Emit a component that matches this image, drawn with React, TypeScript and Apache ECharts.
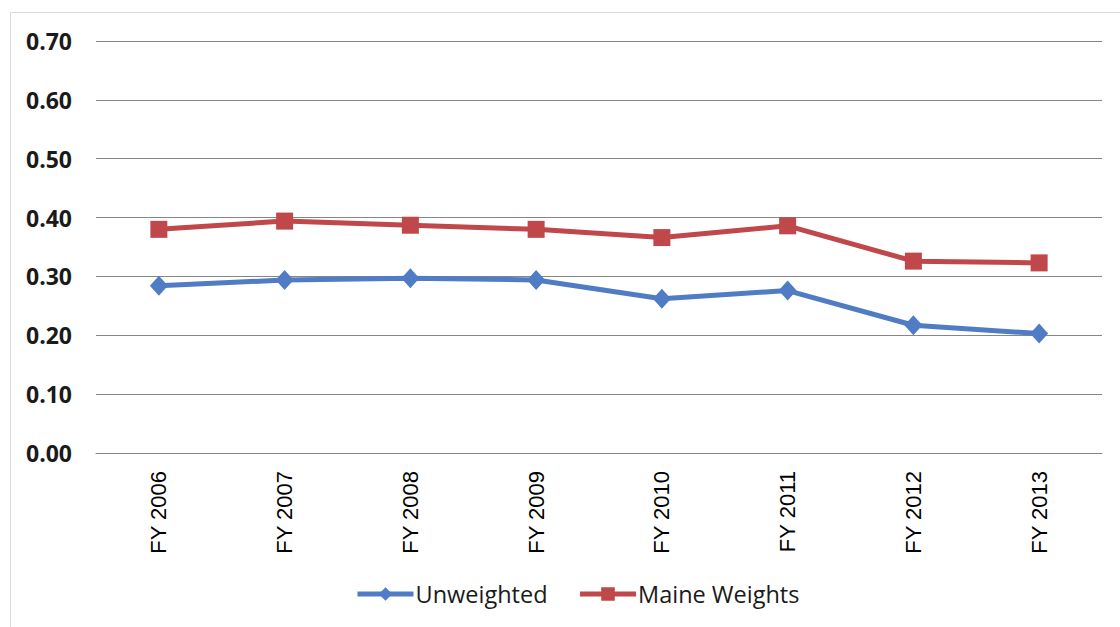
import React, { useEffect, useRef } from "react";
import * as echarts from "echarts";

const categories = ["FY 2006", "FY 2007", "FY 2008", "FY 2009", "FY 2010", "FY 2011", "FY 2012", "FY 2013"];
const unweighted = [0.284, 0.294, 0.297, 0.294, 0.262, 0.276, 0.217, 0.203];
const maineWeights = [0.38, 0.394, 0.387, 0.38, 0.366, 0.386, 0.326, 0.323];
const yTicks = { min: 0, max: 0.7, interval: 0.1 };

export default function App() {
  const ref = useRef<HTMLDivElement>(null);
  useEffect(() => {
    const chart = echarts.init(ref.current!, null, { renderer: "svg" });
    chart.setOption({
      animation: false,
      backgroundColor: "#ffffff",
      graphic: [
        {
          type: "rect",
          z: -1,
          shape: { x: 10.5, y: 12.5, width: 1120, height: 640 },
          style: { fill: "none", stroke: "#d9d9d9", lineWidth: 1 },
        },
      ],
      grid: { left: 96, right: 18, top: 41, bottom: 174, containLabel: false },
      legend: {
        bottom: 16,
        left: 350,
        itemWidth: 56,
        itemHeight: 17,
        itemGap: 30,
        lineStyle: { width: 5 },
        textStyle: { fontFamily: "Open Sans", fontSize: 23.5, color: "#1a1a1a", padding: [0, 0, 0, -3] },
        data: ["Unweighted", "Maine Weights"],
      },
      xAxis: {
        type: "category",
        data: categories,
        boundaryGap: true,
        axisLine: { show: true, lineStyle: { color: "#868686", width: 1 } },
        axisTick: { show: false },
        axisLabel: {
          rotate: 90,
          margin: 18,
          fontFamily: "Liberation Sans",
          fontSize: 22,
          color: "#000000",
        },
      },
      yAxis: {
        type: "value",
        min: yTicks.min,
        max: yTicks.max,
        interval: yTicks.interval,
        axisLine: { show: false },
        axisTick: { show: false },
        splitLine: { lineStyle: { color: "#868686", width: 1 } },
        axisLabel: {
          margin: 24,
          fontFamily: "Open Sans",
          fontWeight: "bold",
          fontSize: 23,
          color: "#1a1a1a",
          formatter: (v: number) => v.toFixed(2),
        },
      },
      series: [
        {
          name: "Unweighted",
          type: "line",
          data: unweighted,
          symbol: "diamond",
          symbolSize: [18, 20],
          lineStyle: { width: 5, color: "#4f7cc4" },
          itemStyle: { color: "#4f7cc4" },
        },
        {
          name: "Maine Weights",
          type: "line",
          data: maineWeights,
          symbol: "rect",
          symbolSize: 17,
          lineStyle: { width: 5, color: "#c0474a" },
          itemStyle: { color: "#c0474a" },
        },
      ],
    });
    return () => chart.dispose();
  }, []);
  return <div ref={ref} style={{ position: "fixed", left: 0, top: 0, width: 1120, height: 627 }} />;
}
